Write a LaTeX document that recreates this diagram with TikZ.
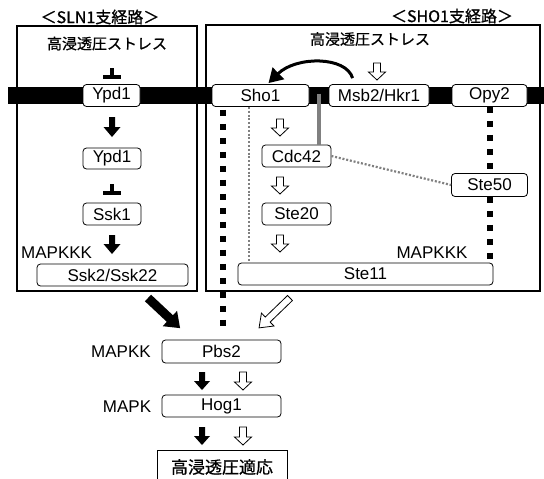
\documentclass[tikz,border=0pt]{standalone}
\usepackage{fontspec}
\setmainfont{Liberation Sans}
\newfontfamily\jp{Noto Sans CJK JP}[FakeBold=0.8]
\usetikzlibrary{calc,arrows.meta}
\tikzset{
  pics/barrow/.style args={#1/#2/#3/#4}{code={
    \path[pic actions] (-#2,0) -- (#2,0) -- (#2,{#1-#4}) -- (#3,{#1-#4}) -- (0,#1)
      -- (-#3,{#1-#4}) -- (-#2,{#1-#4}) -- cycle;
  }},
  pics/tbar/.style={code={
    \fill (-2,0) rectangle (2,7);
    \fill (-9,6.5) rectangle (9,10.5);
  }}
}
\begin{document}
\begin{tikzpicture}[x=1pt,y=-1pt,
  box/.style={draw, rounded corners=3.5pt, line width=0.8pt, fill=white,
    minimum height=22pt, inner sep=0pt, font=\fontsize{17}{19}\selectfont},
  frame/.style={draw, line width=1.1pt},
  lbl/.style={font=\fontsize{17}{19}\selectfont, inner sep=0pt},
  jlbl/.style={font=\jp\fontsize{15}{17}\selectfont, inner sep=0pt},
  sqdot/.style={line width=6pt, dash pattern=on 6pt off 8pt},
  greydot/.style={draw=black!50, line width=2.2pt, dash pattern=on 2pt off 1.8pt},
  greybar/.style={draw=black!50, line width=4pt},
  blackarrow/.style={fill=black},
  whitearrow/.style={draw, fill=white, line width=0.8pt}
]
\useasboundingbox (0,0) rectangle (544,479);
\clip (0,0) rectangle (544,479);
\fill[white] (0,0) rectangle (544,479);

% frames
\draw[frame] (17,26) rectangle (197,291);
\draw[frame] (206,25) rectangle (540,291);

% titles
\node[jlbl, font=\jp\fontsize{16}{18}\selectfont] (slnT) at (100,17) {＜SLN1支経路＞};
\node[jlbl, font=\jp\fontsize{16}{18}\selectfont] (shoT) at (452,16) {＜SHO1支経路＞};
\node[jlbl] (stressL) at (107,43.5) {高浸透圧ストレス};
\node[jlbl] (stressR) at (370,39) {高浸透圧ストレス};

% membrane
\fill (8,86.5) rectangle (544,103.5);

% nodes
\node[box, minimum width=57pt] (ypdA) at (111.5,95.5) {Ypd1};
\node[box, minimum width=97pt] (sho1) at (260.5,95.5) {Sho1};
\node[box, minimum width=100pt] (msb2) at (379,95.5) {Msb2/Hkr1};
\node[box, minimum width=75pt] (opy2) at (489.5,95.5) {Opy2};
\node[box, minimum width=58pt, minimum height=21pt] (ypdB) at (112,158.5) {Ypd1};
\node[box, minimum width=58pt] (ssk1) at (112,214) {Ssk1};
\node[box, minimum width=151pt] (ssk2) at (112.5,275) {Ssk2/Ssk22};
\node[lbl, anchor=west] (mkkkL) at (21,253) {MAPKKK};
\node[box, minimum width=69pt] (cdc42) at (296.5,156) {Cdc42};
\node[box, minimum width=69pt] (ste20) at (296.5,214) {Ste20};
\node[box, minimum width=76pt, minimum height=23pt] (ste50) at (489.5,185) {Ste50};
\node[box, minimum width=255pt] (ste11) at (365.5,274) {Ste11};
\node[lbl] (mkkkR) at (432,253) {MAPKKK};
\node[box, minimum width=119pt, minimum height=23pt] (pbs2) at (221.5,351.5) {Pbs2};
\node[lbl] (mkk) at (121,352) {MAPKK};
\node[box, minimum width=119pt] (hog1) at (221.5,406) {Hog1};
\node[lbl] (mk) at (127,407) {MAPK};
\node[draw, line width=0.9pt, minimum width=130pt, minimum height=34pt, inner sep=0pt,
  font=\jp\fontsize{17}{19}\selectfont] (adapt) at (222,467) {高浸透圧適応};

% grey connectors
\coordinate (gap) at ($(sho1.east)!0.5!(msb2.west)$);
\draw[greybar] ($(gap)+(0,-2)$) -- (gap |- cdc42.north);
\draw[greydot] ($(sho1.south west)+(37,0)$) -- ($(sho1.south west |- ste11.north)+(37,0)$);
\draw[greydot] (cdc42.east) -- (ste50.west);

% black square-dotted connectors
\draw[sqdot] ($(sho1.south west)+(11,3)$) -- ($(sho1.south west |- pbs2.north)+(11,-7)$);
\draw[sqdot] (opy2.south) -- (ste50.north);
\draw[sqdot] (ste50.south) -- (ste50.south |- ste11.north);

% curved arrow Msb2 -> Sho1
\draw[line width=3pt, -{Triangle[length=14pt,width=16pt]}]
  ($(msb2.north west)+(24,-6)$) .. controls (346,56) and (296,56) .. ($(sho1.north)+(8,-1)$);

% inhibition symbols
\pic at (111.5,68) {tbar};
\pic at (112,184) {tbar};

% black block arrows
\pic[blackarrow] at (112,117) {barrow=20/3/8.5/10};
\pic[blackarrow] at (112,235) {barrow=19/3/8.5/10};
\pic[blackarrow] at (202,372) {barrow=18/3/8/9};
\pic[blackarrow] at (202,427) {barrow=18/3/8/9};
\pic[blackarrow, rotate=46.8] at (148,298) {barrow=44/4.5/10.5/14};

% white block arrows
\pic[whitearrow] at (377,63) {barrow=17/3.5/8.5/8};
\pic[whitearrow] at (280,119) {barrow=17/3.5/8.5/8};
\pic[whitearrow] at (280,177) {barrow=17/3.5/8.5/8};
\pic[whitearrow] at (280,235) {barrow=17/3.5/8.5/8};
\pic[whitearrow] at (243,372) {barrow=18/3.5/8.5/8};
\pic[whitearrow] at (243,427) {barrow=18/3.5/8.5/8};
\pic[whitearrow, rotate=-46] at (290,298) {barrow=43/3.5/9/12};
\end{tikzpicture}
\end{document}
